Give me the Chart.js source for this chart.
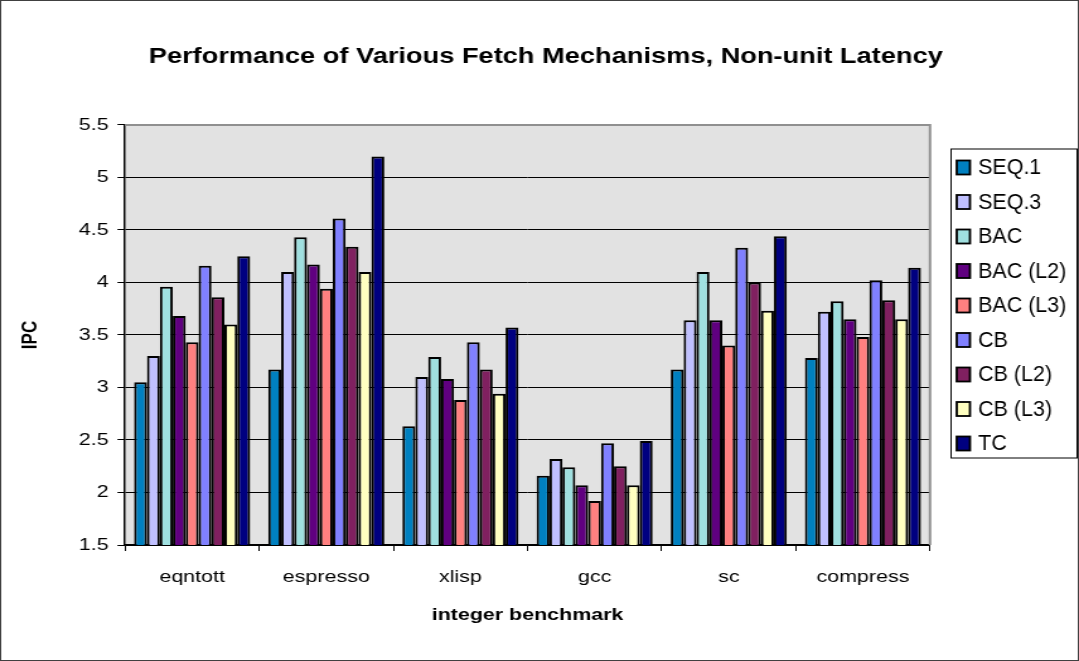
<!DOCTYPE html>
<html>
<head>
<meta charset="utf-8">
<script src="https://cdn.jsdelivr.net/npm/chart.js@4.4.1/dist/chart.umd.min.js"></script>
<style>
  html, body { margin: 0; padding: 0; background: #fff; }
  /* the original chart is stretched sideways, so the canvas is drawn narrow and widened */
  #chart { display: block; width: 1079px; height: 661px; }
</style>
</head>
<body>
<canvas id="chart" width="856" height="661" style="width:1079px;height:661px"></canvas>
<script>
// benchmarks on the x axis
const benchmarks = ["eqntott", "espresso", "xlisp", "gcc", "sc", "compress"];

// IPC per fetch mechanism
const seq1   = [3.05, 3.17, 2.63, 2.16, 3.17, 3.28];
const seq3   = [3.30, 4.10, 3.10, 2.32, 3.64, 3.72];
const bac    = [3.96, 4.43, 3.29, 2.24, 4.10, 3.82];
const bacL2  = [3.68, 4.17, 3.08, 2.07, 3.64, 3.65];
const bacL3  = [3.43, 3.94, 2.88, 1.92, 3.40, 3.48];
const cb     = [4.16, 4.61, 3.43, 2.47, 4.33, 4.02];
const cbL2   = [3.86, 4.34, 3.17, 2.25, 4.00, 3.83];
const cbL3   = [3.60, 4.10, 2.94, 2.07, 3.73, 3.65];
const tc     = [4.25, 5.20, 3.57, 2.49, 4.44, 4.14];

const seriesNames = ["SEQ.1", "SEQ.3", "BAC", "BAC (L2)", "BAC (L3)", "CB", "CB (L2)", "CB (L3)", "TC"];
const seriesValues = [seq1, seq3, bac, bacL2, bacL3, cb, cbL2, cbL3, tc];
const seriesColors = ["#0080c0", "#c0c0ff", "#a0e0e0", "#600080", "#ff8080", "#8080ff", "#802060", "#ffffc0", "#000080"];

// y axis range
const yMin = 1.5;
const yMax = 5.5;
const yStep = 0.5;

const FONT = "'Liberation Sans', Arial, sans-serif";

// grey plot area, frame round the picture and the boxed legend
const chartDecor = {
  id: "chartDecor",
  beforeDraw(chart) {
    const ctx = chart.ctx;
    const a = chart.chartArea;
    ctx.save();
    ctx.fillStyle = "#e2e2e2";
    ctx.fillRect(a.left, a.top, a.right - a.left, a.bottom - a.top);
    ctx.restore();
  },
  afterDraw(chart) {
    const ctx = chart.ctx;
    const a = chart.chartArea;
    ctx.save();
    // top and right edge of plot
    ctx.strokeStyle = "#909090";
    ctx.lineWidth = 2;
    ctx.beginPath();
    ctx.moveTo(a.left, a.top);
    ctx.lineTo(a.right, a.top);
    ctx.lineTo(a.right, a.bottom);
    ctx.stroke();

    // outer frame
    ctx.strokeStyle = "#404040";
    ctx.lineWidth = 1;
    ctx.strokeRect(0.5, 0.5, chart.width - 1, chart.height - 1);

    // legend
    const lx = 754.5, ly = 149, lw = 100, lh = 309;
    ctx.strokeStyle = "#000";
    ctx.lineWidth = 1;
    ctx.strokeRect(lx, ly, lw, lh);
    ctx.font = "17px " + FONT;
    ctx.textBaseline = "middle";
    ctx.textAlign = "left";
    chart.data.datasets.forEach((ds, i) => {
      const cy = 167.5 + i * 34.5;
      ctx.fillStyle = ds.backgroundColor;
      ctx.fillRect(lx + 4.5, cy - 7, 10.5, 14);
      ctx.strokeStyle = "#000";
      ctx.lineWidth = 1.8;
      ctx.strokeRect(lx + 4.5, cy - 7, 10.5, 14);
      ctx.fillStyle = "#000";
      // legend lettering is taller than the rest
      ctx.save();
      ctx.translate(lx + 21.5, cy + 1);
      ctx.scale(1, 1.25);
      ctx.fillText(ds.label, 0, 0);
      ctx.restore();
    });
    ctx.restore();
  }
};

const ctx = document.getElementById("chart").getContext("2d");

new Chart(ctx, {
  type: "bar",
  data: {
    labels: benchmarks,
    datasets: seriesNames.map((name, i) => ({
      label: name,
      data: seriesValues[i],
      backgroundColor: seriesColors[i],
      borderColor: "#000",
      borderWidth: 2,
      categoryPercentage: 0.865,
      barPercentage: 1.0
    }))
  },
  options: {
    responsive: false,
    animation: false,
    layout: { padding: { left: 10, right: 0, top: 0, bottom: 0 } },
    plugins: {
      legend: { display: false },
      tooltip: { enabled: false },
      title: {
        display: true,
        text: "Performance of Various Fetch Mechanisms, Non-unit Latency",
        color: "#000",
        font: { family: FONT, size: 21.6, weight: "bold" },
        padding: { top: 44, bottom: 55 }
      }
    },
    scales: {
      x: {
        grid: {
          display: true,
          offset: true,
          drawOnChartArea: false,
          drawTicks: true,
          tickLength: 6,
          tickColor: "#000",
          tickWidth: 1
        },
        border: { display: true, color: "#000", width: 1.5 },
        ticks: {
          color: "#000",
          font: { family: FONT, size: 17 },
          padding: 16,
          maxRotation: 0
        },
        title: {
          display: true,
          text: "integer benchmark",
          color: "#000",
          font: { family: FONT, size: 17, weight: "bold" },
          padding: { top: 0, bottom: 35 }
        },
        afterFit(scale) { scale.height = 116; }
      },
      y: {
        min: yMin,
        max: yMax,
        grid: {
          color: "#000",
          lineWidth: 1,
          drawTicks: true,
          tickLength: 6,
          tickColor: "#000"
        },
        border: { display: true, color: "#000", width: 1.5 },
        ticks: {
          stepSize: yStep,
          color: "#000",
          font: { family: FONT, size: 17 },
          padding: 7,
          callback: (value) => String(value)
        },
        title: {
          display: true,
          text: "IPC",
          color: "#000",
          font: { family: FONT, size: 17, weight: "bold" },
          padding: { top: 4, bottom: 0 }
        },
        afterFit(scale) { scale.width = 89.2; }
      },
      // empty axis only to keep room for the legend on the right
      spacer: {
        type: "linear",
        position: "right",
        display: true,
        grid: { display: false },
        border: { display: false },
        ticks: { display: false },
        afterFit(scale) { scale.width = 118.2; }
      }
    }
  },
  plugins: [chartDecor]
});
</script>
</body>
</html>
